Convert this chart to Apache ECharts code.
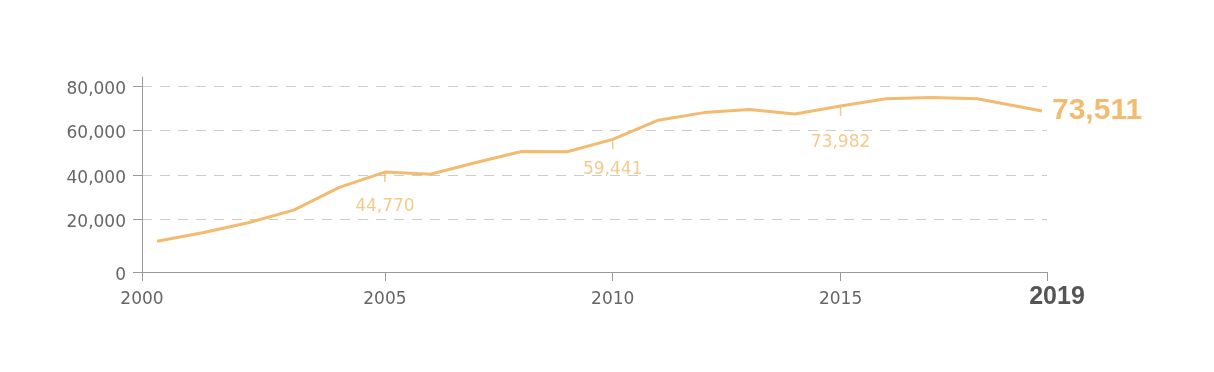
<!DOCTYPE html>
<html><head><meta charset="utf-8">
<script src="https://cdn.jsdelivr.net/npm/echarts@6/dist/echarts.min.js"></script>
<style>html,body{margin:0;padding:0;background:#fff}#c{width:1214px;height:372px}</style>
</head><body><div id="c"></div>
<script>
// Data positions (years); the last point is a partial year
const years = [2000, 2001, 2002, 2003, 2004, 2005, 2006, 2007, 2008, 2009,
               2010, 2011, 2012, 2013, 2014, 2015, 2016, 2017, 2018, 2019.42];
const values = [10200, 14000, 18500, 24200, 34400, 41300, 40300, 45600, 50500, 50400,
                56000, 64600, 68000, 69400, 67400, 71000, 74200, 74800, 74200, 68700];
const xTickValues = [2005, 2010, 2015];
const yTickValues = [20000, 40000, 60000, 80000];
const firstYearLabel = '2000';
const lastYearLabel = '2019';
const zeroLabel = '0';
const annoYears = [2005, 2010, 2015];
const annoLabels = ['44,770', '59,441', '73,982'];
const endLabelText = '73,511';

const X_MIN = 1999.67, X_MAX = 2019.53, Y_MIN = -3600, Y_MAX = 84000;
const ORANGE = '#f2bb6f';
const AXIS = '#999';
const annoDistances = [16, 12, 18];

const chart = echarts.init(document.getElementById('c'), null, {renderer: 'canvas'});
const xCustom = [X_MIN, ...xTickValues, X_MAX];
const yCustom = [Y_MIN, ...yTickValues];

chart.setOption({
  animation: false,
  backgroundColor: '#fff',
  grid: {left: 142, right: 167, top: 77, bottom: 100, containLabel: false, outerBoundsMode: 'none'},
  xAxis: {
    type: 'value', min: X_MIN, max: X_MAX,
    axisLine: {show: true, onZero: false, lineStyle: {color: AXIS, width: 1}},
    axisTick: {show: true, length: 9, customValues: xCustom, lineStyle: {color: AXIS, width: 1}},
    axisLabel: {
      customValues: xCustom, margin: 13,
      fontFamily: 'DejaVu Sans', fontSize: 17, color: '#666',
      formatter: v => v === X_MAX ? '{b|' + lastYearLabel + '}' : '{n|' + (v === X_MIN ? firstYearLabel : String(v)) + '}',
      rich: {
        n: {fontFamily: 'DejaVu Sans', fontSize: 17, color: '#666', padding: [6, 0, 0, 0]},
        b: {fontFamily: 'Liberation Sans', fontWeight: 'bold', fontSize: 25, color: '#555', padding: [0, 0, 0, 20]}
      }
    },
    splitLine: {show: false}
  },
  yAxis: {
    type: 'value', min: Y_MIN, max: Y_MAX,
    axisLine: {show: true, onZero: false, lineStyle: {color: AXIS, width: 1}},
    axisTick: {show: true, length: 9, customValues: yCustom, lineStyle: {color: AXIS, width: 1}},
    axisLabel: {
      customValues: yCustom, margin: 16,
      fontFamily: 'DejaVu Sans', fontSize: 17, color: '#666',
      formatter: v => '{n|' + (v === Y_MIN ? zeroLabel : v.toLocaleString('en-US')) + '}',
      rich: {n: {fontFamily: 'DejaVu Sans', fontSize: 17, color: '#666', padding: [7, 0, 0, 0]}}
    },
    splitLine: {show: true, lineStyle: {color: '#ccc', type: [10, 8], width: 1}}
  },
  series: [
    {
      type: 'line',
      data: years.map((y, i) => [y, values[i]]),
      showSymbol: false,
      symbol: 'none',
      lineStyle: {color: ORANGE, width: 3},
      itemStyle: {color: ORANGE},
      endLabel: {
        show: true, formatter: endLabelText, distance: 10,
        fontFamily: 'Liberation Sans', fontWeight: 'bold', fontSize: 30, color: ORANGE
      },
      z: 3
    },
    {
      type: 'scatter',
      silent: true,
      symbol: 'rect',
      symbolSize: [1.5, 9],
      symbolOffset: [0, 5.5],
      itemStyle: {color: ORANGE},
      data: annoYears.map((y, i) => ({
        value: [y, values[years.indexOf(y)]],
        label: {formatter: annoLabels[i], distance: annoDistances[i]}
      })),
      label: {
        show: true, position: 'bottom',
        fontFamily: 'DejaVu Sans', fontSize: 17, color: ORANGE
      },
      z: 2
    }
  ]
});
</script>
</body></html>
